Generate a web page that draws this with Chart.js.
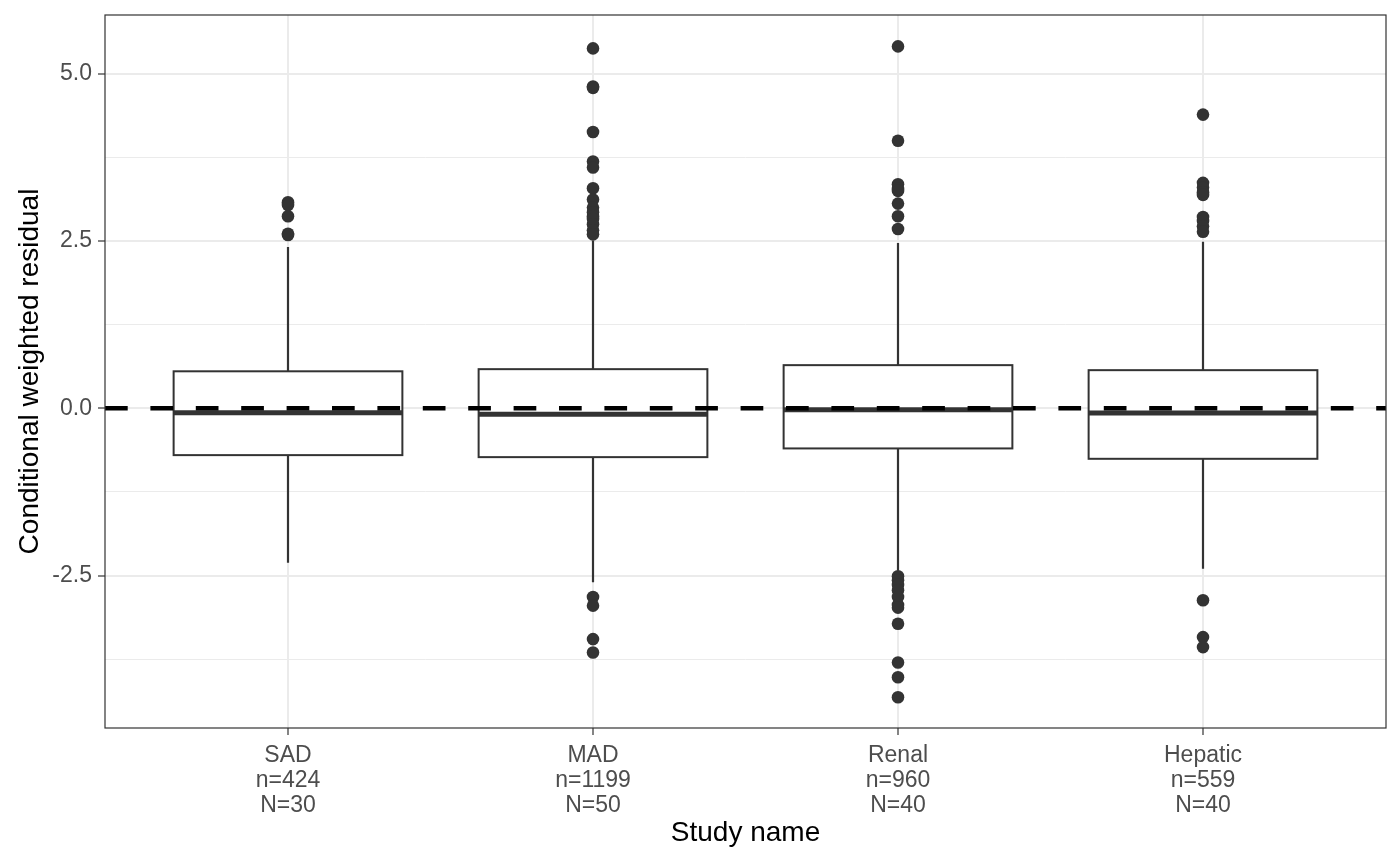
<!DOCTYPE html>
<html>
<head>
<meta charset="utf-8">
<script src="https://cdn.jsdelivr.net/npm/chart.js@4.4.1/dist/chart.umd.min.js"></script>
<style>
  body { margin: 0; background: #fff; }
  canvas { display: block; }
</style>
</head>
<body>
<canvas id="grafico" width="1400" height="866"></canvas>
<script>
// study groups and their box statistics
const studies = ["SAD", "MAD", "Renal", "Hepatic"];
const nObs = [424, 1199, 960, 559];
const nSubj = [30, 50, 40, 40];
const q1 = [-0.70, -0.73, -0.60, -0.755];
const medians = [-0.065, -0.09, -0.02, -0.07];
const q3 = [0.553, 0.585, 0.645, 0.57];
const whiskerLow = [-2.31, -2.60, -2.43, -2.40];
const whiskerHigh = [2.41, 2.51, 2.47, 2.49];
const outliers = [
  [3.08, 3.04, 2.87, 2.61, 2.59],
  [5.38, 4.81, 4.79, 4.13, 3.69, 3.60, 3.29, 3.12, 3.00, 2.93, 2.87, 2.83, 2.75, 2.66, 2.60,
   -2.82, -2.95, -3.45, -3.65],
  [5.41, 4.00, 3.35, 3.28, 3.25, 3.06, 2.87, 2.68,
   -2.51, -2.57, -2.64, -2.72, -2.82, -2.94, -2.98, -3.22, -3.80, -4.02, -4.32],
  [4.39, 3.37, 3.30, 3.23, 3.19, 2.86, 2.80, 2.72, 2.64,
   -2.87, -3.42, -3.57]
];
const yTicks = [-2.5, 0, 2.5, 5];
const yMinor = [-3.75, -1.25, 1.25, 3.75];
const refLine = 0;

const outlierPoints = [];
outliers.forEach((lista, i) => {
  lista.forEach(v => outlierPoints.push({ x: i, y: v }));
});

const boxPlugin = {
  id: "boxes",
  beforeDatasetsDraw(chart) {
    const c = chart.ctx;
    const xs = chart.scales.x, ys = chart.scales.y;
    const area = chart.chartArea;
    c.save();
    c.beginPath();
    c.rect(area.left, area.top, area.right - area.left, area.bottom - area.top);
    c.clip();
    studies.forEach((s, i) => {
      const xc = xs.getPixelForValue(i);
      const xl = xs.getPixelForValue(i - 0.375);
      const xr = xs.getPixelForValue(i + 0.375);
      const yq1 = ys.getPixelForValue(q1[i]);
      const yq3 = ys.getPixelForValue(q3[i]);
      // whiskers
      c.strokeStyle = "#333333";
      c.lineWidth = 2.2;
      c.beginPath();
      c.moveTo(xc, ys.getPixelForValue(whiskerHigh[i]));
      c.lineTo(xc, yq3);
      c.moveTo(xc, yq1);
      c.lineTo(xc, ys.getPixelForValue(whiskerLow[i]));
      c.stroke();
      // box
      c.lineWidth = 2;
      c.fillStyle = "#ffffff";
      c.fillRect(xl, yq3, xr - xl, yq1 - yq3);
      c.strokeRect(xl, yq3, xr - xl, yq1 - yq3);
      // median
      const ym = ys.getPixelForValue(medians[i]);
      c.lineWidth = 5;
      c.beginPath();
      c.moveTo(xl, ym);
      c.lineTo(xr, ym);
      c.stroke();
    });
    c.restore();
  },
  afterDatasetsDraw(chart) {
    const c = chart.ctx;
    const a = chart.chartArea;
    c.save();
    c.strokeStyle = "#333333";
    c.lineWidth = 1.2;
    c.strokeRect(a.left, a.top, a.right - a.left, a.bottom - a.top);
    c.restore();
  }
};

Chart.defaults.font.family = "'Liberation Sans', Arial, sans-serif";

const ctx = document.getElementById("grafico").getContext("2d");
const chart = new Chart(ctx, {
  type: "scatter",
  data: {
    datasets: [
      {
        type: "line",
        data: [{ x: -0.6, y: refLine }, { x: 3.6, y: refLine }],
        borderColor: "#000000",
        borderWidth: 4.5,
        borderDash: [22.7, 22.7],
        borderCapStyle: "butt",
        pointRadius: 0,
        fill: false
      },
      {
        data: outlierPoints,
        backgroundColor: "#333333",
        borderWidth: 0,
        pointRadius: 6.3,
        pointHoverRadius: 6.3
      }
    ]
  },
  options: {
    responsive: false,
    animation: false,
    layout: { padding: { top: 15, right: 14, left: 0, bottom: 0 } },
    plugins: { legend: { display: false }, tooltip: { enabled: false } },
    scales: {
      x: {
        type: "linear",
        min: -0.6,
        max: 3.6,
        afterBuildTicks: scale => { scale.ticks = studies.map((s, i) => ({ value: i })); },
        afterFit: scale => { scale.height = 138; scale.paddingLeft = 0; scale.paddingRight = 0; },
        ticks: {
          callback: v => [studies[v], "n=" + nObs[v], "N=" + nSubj[v]],
          font: { size: 23, lineHeight: 25 / 23 },
          color: "#4d4d4d",
          padding: 8,
          maxRotation: 0,
          autoSkip: false
        },
        grid: { color: "#ebebeb", lineWidth: 2, tickLength: 7, tickColor: "#333333", tickWidth: 1.2 },
        border: { display: false },
        title: {
          display: true,
          text: "Study name",
          color: "#000000",
          font: { size: 28 },
          padding: { top: 0, bottom: 16 }
        }
      },
      y: {
        type: "linear",
        min: -4.779,
        max: 5.879,
        afterBuildTicks: scale => {
          scale.ticks = yMinor.concat(yTicks).sort((a, b) => a - b).map(v => ({ value: v }));
        },
        afterFit: scale => { scale.width = 105; scale.paddingTop = 0; scale.paddingBottom = 0; },
        ticks: {
          callback: v => yTicks.includes(v) ? v.toFixed(1) : "",
          font: { size: 23 },
          color: "#4d4d4d",
          padding: 6
        },
        grid: {
          color: "#ebebeb",
          lineWidth: c => yTicks.includes(c.tick.value) ? 2 : 1,
          tickLength: 7,
          tickColor: c => yTicks.includes(c.tick.value) ? "#333333" : "rgba(0,0,0,0)",
          tickWidth: 1.2
        },
        border: { display: false },
        title: {
          display: true,
          text: "Conditional weighted residual",
          color: "#000000",
          font: { size: 28 },
          padding: { top: 13, bottom: 0 }
        }
      }
    }
  },
  plugins: [boxPlugin]
});
</script>
</body>
</html>
